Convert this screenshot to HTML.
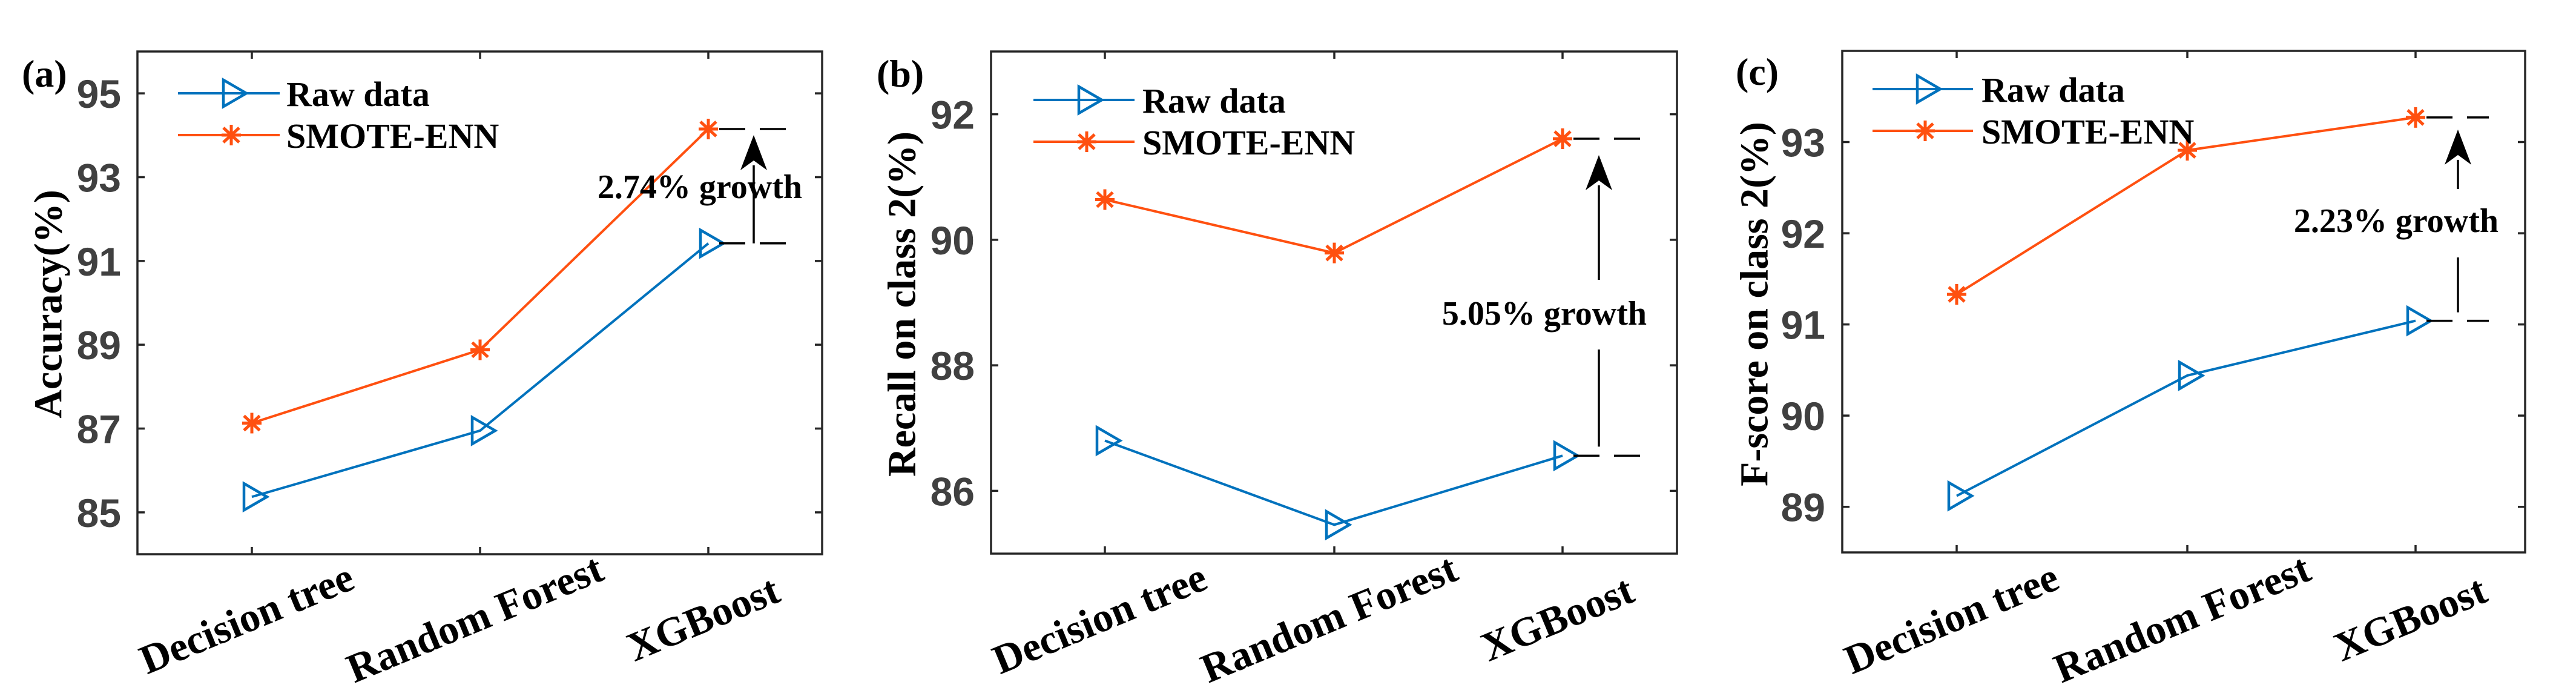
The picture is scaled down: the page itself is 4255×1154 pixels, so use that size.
<!DOCTYPE html>
<html><head><meta charset="utf-8"><style>
html,body{margin:0;padding:0;background:#fff;}
svg{display:block;}
.tk{font-family:"Liberation Sans",sans-serif;font-weight:bold;font-size:66px;fill:#404040;}
.sf{font-family:"Liberation Serif",serif;font-weight:bold;fill:#000;}
</style></head><body>
<svg id="fig" width="4255" height="1154" viewBox="0 0 4255 1154" xmlns="http://www.w3.org/2000/svg"></svg>
<script>
const categories = ["Decision tree", "Random Forest", "XGBoost"];
const seriesNames = ["Raw data", "SMOTE-ENN"];
const accRaw = [85.37, 86.95, 91.42];
const accSmote = [87.13, 88.88, 94.15];
const recRaw = [86.80, 85.46, 86.56];
const recSmote = [90.64, 89.79, 91.61];
const fsRaw = [89.12, 90.44, 91.04];
const fsSmote = [91.33, 92.91, 93.27];
const accTicks = [85, 87, 89, 91, 93, 95];
const recTicks = [86, 88, 90, 92];
const fsTicks = [89, 90, 91, 92, 93];
const panelLetters = ["(a)", "(b)", "(c)"];
const yTitles = ["Accuracy(%)", "Recall on class 2(%)", "F-score on class 2(%)"];
const growthLabels = ["2.74% growth", "5.05% growth", "2.23% growth"];

const NS = "http://www.w3.org/2000/svg";
const svg = document.getElementById("fig");
const BLUE = "#0072BD", ORANGE = "#FF5010";
function mk(tag, attrs, parent) {
  const e = document.createElementNS(NS, tag);
  for (const k in attrs) e.setAttribute(k, attrs[k]);
  (parent || svg).appendChild(e);
  return e;
}

const panels = [
  {L:227,R:1358,T:85,B:915,ticks:[416,793,1170],ymin:84,ymax:96,yt:accTicks,raw:accRaw,sm:accSmote,
   letterX:36,letterY:143,titleX:80,labR:200,legLine:[294,462],legMk:382,legText:473,legY:[154,223],
   dashEnd:1298,arrowX:1245,tipOff:10,botOff:0,gap:null,gText:[1325,327]},
  {L:1637,R:2770,T:85,B:914,ticks:[1825,2204,2581],ymin:85,ymax:93,yt:recTicks,raw:recRaw,sm:recSmote,
   letterX:1448,letterY:143,titleX:1490,labR:1610,legLine:[1707,1874],legMk:1795,legText:1887,legY:[165,234],
   dashEnd:2709,arrowX:2641,tipOff:27,botOff:15,gap:[462,577],gText:[2720,536]},
  {L:3043,R:4171,T:84,B:912,ticks:[3232,3613,3990],ymin:88.5,ymax:94,yt:fsTicks,raw:fsRaw,sm:fsSmote,
   letterX:2867,letterY:140,titleX:2898,labR:3015,legLine:[3093,3259],legMk:3180,legText:3273,legY:[147,216],
   dashEnd:4111,arrowX:4060,tipOff:20,botOff:14,gap:[312,425],gText:[4127,383]}
];

function tri(g, cx, cy) {
  const p = mk("polygon", {points:`${cx-13},${cy-22} ${cx+25},${cy} ${cx-13},${cy+22}`, fill:"none", stroke:BLUE, "stroke-width":4.5}, g);
  
  
}
function star(g, cx, cy) {
  const s = mk("path", {d:`M${cx},${cy-17}V${cy+17}M${cx-16},${cy}H${cx+16}M${cx-13},${cy-12}L${cx+13},${cy+12}M${cx-13},${cy+12}L${cx+13},${cy-12}`, stroke:ORANGE, "stroke-width":5, fill:"none"}, g);
  
  
}

panels.forEach((p, i) => {
  const g = mk("g", {});
  
  
  const y = v => p.B - (v - p.ymin) / (p.ymax - p.ymin) * (p.B - p.T);
  const x = j => p.ticks[j];

  const fr = mk("rect", {x:p.L, y:p.T, width:p.R-p.L, height:p.B-p.T, fill:"none", stroke:"#262626", "stroke-width":3.5}, g);
  
  

  p.yt.forEach(v => {
    const yy = y(v);
    mk("path", {d:`M${p.L},${yy}h12M${p.R},${yy}h-12`, stroke:"#262626", "stroke-width":3.5}, g);
    const t = mk("text", {x:p.labR, y:yy+24, "text-anchor":"end", class:"tk"}, g);
    t.textContent = v;
    
    
  });
  categories.forEach((c, j) => {
    mk("path", {d:`M${x(j)},${p.B}v-12M${x(j)},${p.T}v12`, stroke:"#262626", "stroke-width":3.5}, g);
    const cy = 1042;
    const t = mk("text", {x:x(j), y:cy, "text-anchor":"middle", class:"sf", "font-size":68, transform:`rotate(-22.5 ${x(j)} ${cy})`}, g);
    t.textContent = c;
    
    
  });

  const ty = 502;
  const yt = mk("text", {x:p.titleX, y:ty, "text-anchor":"middle", "dominant-baseline":"central", class:"sf", "font-size":66, transform:`rotate(-90 ${p.titleX} ${ty})`}, g);
  yt.textContent = yTitles[i];
  
  

  const pl = mk("text", {x:p.letterX, y:p.letterY, class:"sf", "font-size":64}, g);
  pl.textContent = panelLetters[i];
  
  

  const rawLine = mk("polyline", {points:p.raw.map((v,j)=>`${x(j)},${y(v)}`).join(" "), fill:"none", stroke:BLUE, "stroke-width":4}, g);
  
  
  const smLine = mk("polyline", {points:p.sm.map((v,j)=>`${x(j)},${y(v)}`).join(" "), fill:"none", stroke:ORANGE, "stroke-width":4}, g);
  
  
  p.raw.forEach((v,j)=>tri(g, x(j), y(v)));
  p.sm.forEach((v,j)=>star(g, x(j), y(v)));

  const yr = y(p.raw[2]), ys = y(p.sm[2]);
  [yr, ys].forEach(yy => {
    const d = mk("line", {x1:x(2)+18, y1:yy, x2:p.dashEnd, y2:yy, stroke:"#000", "stroke-width":3.5, "stroke-dasharray":"43 24"}, g);
    
    
  });
  const tip = ys + p.tipOff, bot = yr - p.botOff, ax = p.arrowX;
  if (p.gap) {
    mk("line", {x1:ax, y1:tip+50, x2:ax, y2:p.gap[0], stroke:"#000", "stroke-width":3.5}, g);
    mk("line", {x1:ax, y1:p.gap[1], x2:ax, y2:bot, stroke:"#000", "stroke-width":3.5}, g);
  } else {
    mk("line", {x1:ax, y1:tip+50, x2:ax, y2:bot, stroke:"#000", "stroke-width":3.5}, g);
  }
  const ah = mk("polygon", {points:`${ax},${tip} ${ax+22},${tip+58} ${ax},${tip+42} ${ax-22},${tip+58}`, fill:"#000"}, g);
  
  
  const gt = mk("text", {x:p.gText[0], y:p.gText[1], "text-anchor":"end", class:"sf", "font-size":56}, g);
  gt.textContent = growthLabels[i];
  
  

  const lg = mk("g", {}, g);
  
  
  seriesNames.forEach((n, k) => {
    const ly = p.legY[k];
    const e = mk("g", {}, lg);
    
    
    mk("line", {x1:p.legLine[0], y1:ly, x2:p.legLine[1], y2:ly, stroke:k?ORANGE:BLUE, "stroke-width":4}, e);
    if (k) star(e, p.legMk, ly); else tri(e, p.legMk, ly);
    const t = mk("text", {x:p.legText, y:ly+21, class:"sf", "font-size":58}, e);
    t.textContent = n;
  });
});
</script>
</body></html>
